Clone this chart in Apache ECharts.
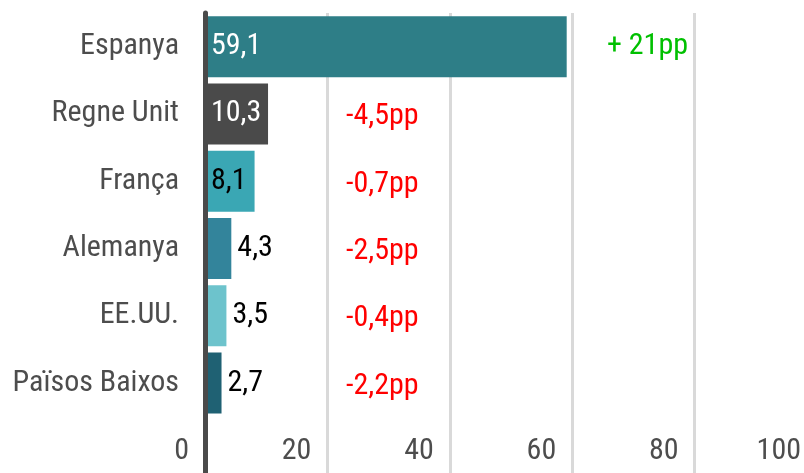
<!DOCTYPE html>
<html>
<head>
<meta charset="utf-8">
<script src="https://cdn.jsdelivr.net/npm/echarts@6/dist/echarts.min.js"></script>
<style>
  html, body { margin: 0; padding: 0; background: #fff; }
  #chart { width: 804px; height: 473px; }
</style>
</head>
<body>
<div id="chart"></div>
<script>
// dades
const countries = ['Espanya', 'Regne Unit', 'França', 'Alemanya', 'EE.UU.', 'Països Baixos']
const shares = [59.1, 10.3, 8.1, 4.3, 3.5, 2.7]
const changes = [21, -4.5, -0.7, -2.5, -0.4, -2.2]
const xTicks = [0, 20, 40, 60, 80, 100]

const barColors = ['#2e7e87', '#4a4a4a', '#3aa7b4', '#33849b', '#6dc3cc', '#1f6173']
const labelColors = ['#fff', '#fff', '#000', '#000', '#000', '#000']
const labelInside = [true, true, true, false, false, false]

const font = '"Roboto Condensed", "DejaVu Sans Condensed", sans-serif'
const size = 30
const fmt = v => String(Math.abs(v)).replace('.', ',')

const chart = echarts.init(document.getElementById('chart'))
chart.setOption({
  animation: false,
  textStyle: { fontFamily: font },
  grid: { top: 13, left: 205, width: 612, height: 471, outerBoundsMode: 'none', containLabel: false },
  xAxis: {
    type: 'value',
    min: xTicks[0],
    max: xTicks[xTicks.length - 1],
    interval: 20,
    axisLine: { show: false },
    axisTick: { show: false },
    splitLine: { lineStyle: { color: '#d9d9d9', width: 3 } },
    axisLabel: {
      inside: true,
      margin: 18,
      align: 'right',
      padding: [0, 16, 0, 0],
      color: '#4d4d4d',
      fontSize: size,
      fontFamily: font
    }
  },
  yAxis: [
    {
      type: 'category',
      inverse: true,
      data: countries,
      max: countries.length,
      z: 10,
      axisLine: { lineStyle: { color: '#4a4a4a', width: 5 } },
      axisTick: { show: false },
      axisLabel: {
        margin: 26,
        color: '#4d4d4d',
        fontSize: size,
        fontFamily: font,
        formatter: v => v || ''
      }
    },
    {
      type: 'category',
      inverse: true,
      position: 'left',
      offset: -141,
      data: countries,
      max: countries.length,
      axisLine: { show: false },
      axisTick: { show: false },
      axisLabel: {
        inside: true,
        margin: 0,
        fontSize: size,
        fontFamily: font,
        formatter: (v, i) => {
          const c = changes[i]
          if (c === undefined) return ''
          return c > 0 ? '{up|+ ' + fmt(c) + 'pp}' : '{down|-' + fmt(c) + 'pp}'
        },
        rich: {
          up: { color: '#00c000', fontSize: size, fontFamily: font, padding: [0, 0, 0, 261] },
          down: { color: '#ff0000', fontSize: size, fontFamily: font, padding: [6, 0, 0, 0] }
        }
      }
    }
  ],
  series: [
    {
      type: 'bar',
      barWidth: 61,
      data: shares.map((v, i) => ({
        value: v,
        itemStyle: { color: barColors[i] },
        label: {
          show: true,
          position: labelInside[i] ? 'insideLeft' : 'right',
          distance: 6,
          color: labelColors[i],
          fontSize: size,
          fontFamily: font,
          formatter: p => fmt(p.value)
        }
      }))
    }
  ]
})
</script>
</body>
</html>
